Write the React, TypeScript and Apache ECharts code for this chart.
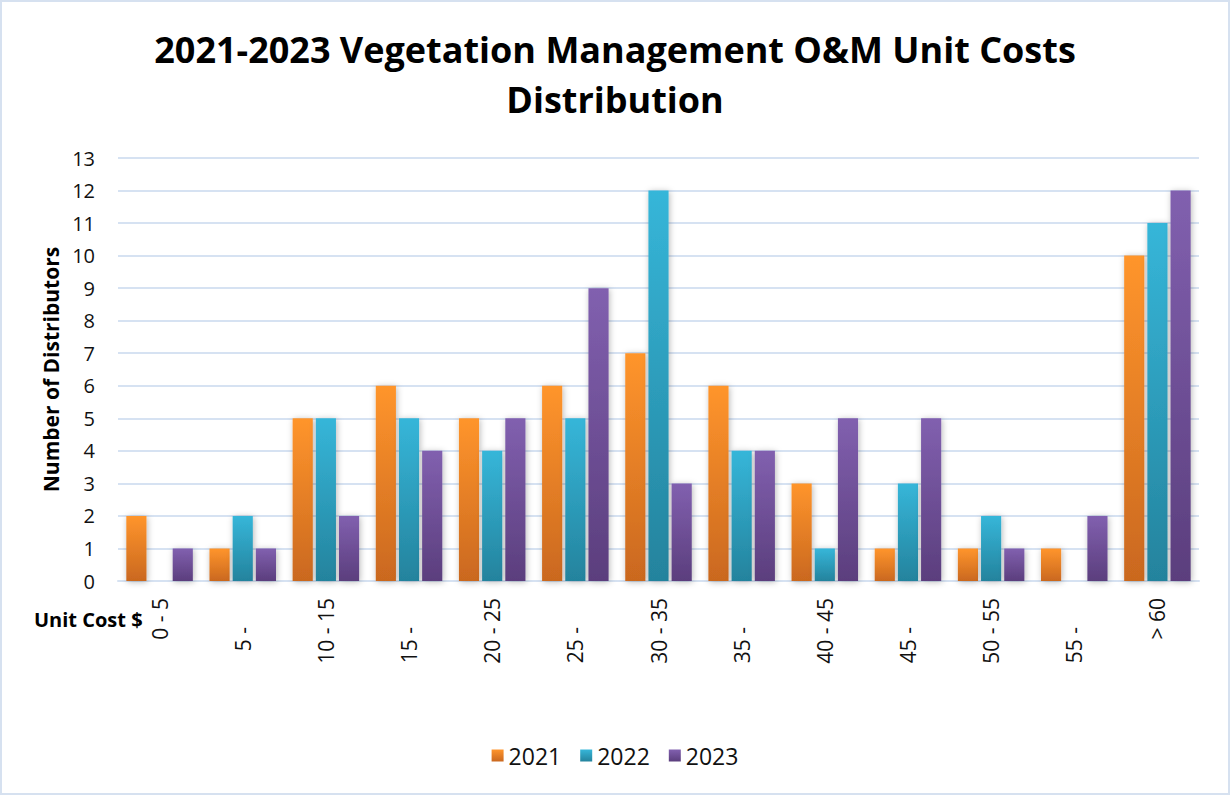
import React, { useEffect, useRef } from "react";
import * as echarts from "echarts";

const categories = ["0 - 5", "5 -", "10 - 15", "15 -", "20 - 25", "25 -", "30 - 35", "35 -", "40 - 45", "45 -", "50 - 55", "55 -", "> 60"];
const seriesNames = ["2021", "2022", "2023"];
const values2021 = [2, 1, 5, 6, 5, 6, 7, 6, 3, 1, 1, 1, 10];
const values2022 = [0, 2, 5, 5, 4, 5, 12, 4, 1, 3, 2, 0, 11];
const values2023 = [1, 1, 2, 4, 5, 9, 3, 4, 5, 5, 1, 2, 12];
const yTicks = { min: 0, max: 13, interval: 1 };

const FONT = "'Open Sans', 'Noto Sans', sans-serif";

function grad(top: string, bottom: string) {
  return new echarts.graphic.LinearGradient(0, 0, 0, 1, [
    { offset: 0, color: top },
    { offset: 1, color: bottom },
  ]);
}

export default function App() {
  const ref = useRef<HTMLDivElement>(null);
  useEffect(() => {
    if (!ref.current) return;
    const chart = echarts.init(ref.current, null, { renderer: "svg" });
    const gradients = [
      grad("#FF952C", "#CA681F"),
      grad("#36B6D9", "#24839D"),
      grad("#8160AF", "#5B3E7D"),
    ];
    const allValues = [values2021, values2022, values2023];
    chart.setOption({
      animation: false,
      backgroundColor: "#ffffff",
      title: {
        text: "2021-2023 Vegetation Management O&M Unit Costs\nDistribution",
        left: "center",
        top: 19,
        textStyle: {
          fontFamily: FONT,
          fontSize: 36,
          fontWeight: "bold",
          color: "#000",
          lineHeight: 50,
        },
      },
      legend: {
        bottom: 23,
        left: "center",
        itemWidth: 12,
        itemHeight: 12,
        itemGap: 19,
        icon: "rect",
        textStyle: { fontFamily: FONT, fontSize: 23, color: "#111" },
        data: seriesNames,
      },
      grid: { left: 118, right: 31, top: 158, bottom: 214 },
      xAxis: [
        {
          type: "category",
          data: categories,
          axisLine: { show: true, lineStyle: { color: "#D6E2F2", width: 2 } },
          axisTick: { show: false },
          axisLabel: {
            rotate: 90,
            interval: 0,
            margin: 17,
            fontFamily: FONT,
            fontSize: 21,
            color: "#111",
            formatter: (v: string, i: number) => (i % 2 === 0 ? v : ""),
          },
        },
        {
          type: "category",
          data: categories,
          position: "bottom",
          offset: 0,
          axisLine: { show: false },
          axisTick: { show: false },
          splitLine: { show: false },
          axisLabel: {
            rotate: 90,
            interval: 0,
            margin: 46,
            fontFamily: FONT,
            fontSize: 21,
            color: "#111",
            formatter: (v: string, i: number) => (i % 2 === 1 ? v : ""),
          },
        },
      ],
      yAxis: {
        type: "value",
        min: yTicks.min,
        max: yTicks.max,
        interval: yTicks.interval,
        name: "Number of Distributors",
        nameLocation: "middle",
        nameGap: 57,
        nameTextStyle: { fontFamily: FONT, fontSize: 21, fontWeight: "bold", color: "#000" },
        axisLine: { show: false },
        axisTick: { show: false },
        axisLabel: { margin: 23, fontFamily: FONT, fontSize: 20, color: "#111" },
        splitLine: { lineStyle: { color: "#D6E2F2", width: 2 } },
      },
      series: seriesNames.map((name, k) => ({
        name,
        type: "bar",
        xAxisIndex: 0,
        data: allValues[k],
        barGap: "15%",
        barCategoryGap: "20%",
        itemStyle: {
          color: gradients[k],
          shadowBlur: 6,
          shadowOffsetX: 1,
          shadowOffsetY: 1,
          shadowColor: "rgba(0,0,0,0.28)",
        },
      })),
      graphic: [
        {
          type: "rect",
          shape: { x: 1, y: 1, width: 1228, height: 793 },
          style: { fill: "none", stroke: "#D6E1F0", lineWidth: 2 },
          silent: true,
        },
        {
          type: "text",
          left: 34,
          top: 609,
          style: {
            text: "Unit Cost $",
            fontFamily: FONT,
            fontSize: 20,
            fontWeight: "bold",
            fill: "#000",
          },
        },
      ],
    });
    return () => chart.dispose();
  }, []);
  return (
    <div
      ref={ref}
      style={{ position: "absolute", left: 0, top: 0, width: 1230, height: 795 }}
    />
  );
}
